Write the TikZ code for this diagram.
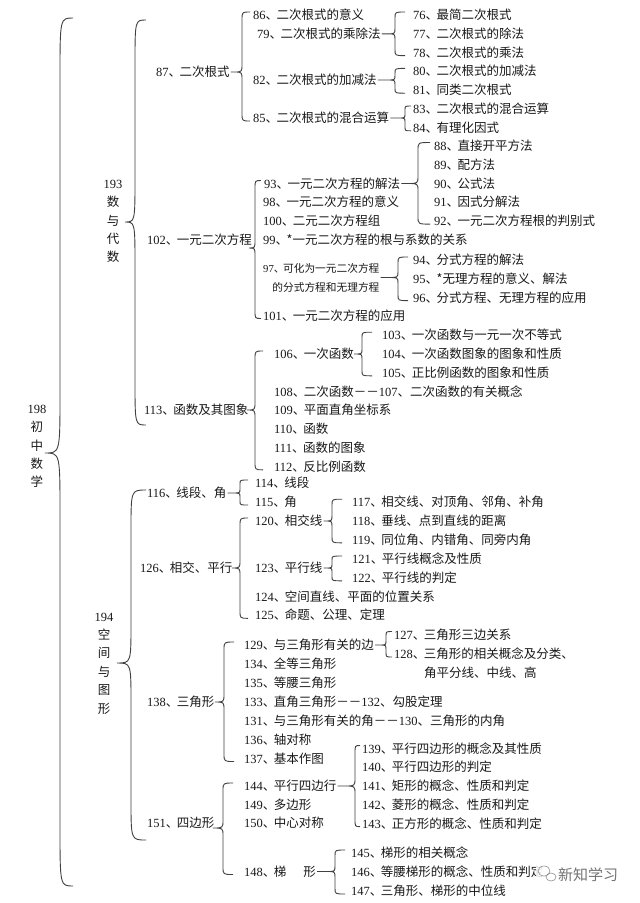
\documentclass[tikz,border=0pt]{standalone}
\usepackage{fontspec}
\setmainfont{Noto Sans CJK SC}
\newfontfamily\numfont{Liberation Serif}
\usetikzlibrary{calc}

\newcommand{\nf}[1]{{\numfont #1}}
\newcommand{\nr}[1]{{\numfont #1}、\kern-1.5pt}
% brace: #1 x of line, #2 hook, #3 depth, #4 radius, #5 top, #6 parent, #7 bottom
\newcommand{\brc}[7]{%
  \draw[brcline] let \p1=(#5), \p2=(#6), \p3=(#7),
      \n1={min(\x2,#1pt-#3pt)} in
    (#1pt+#2pt,\y1+3pt) .. controls (#1pt,\y1+3pt) .. (#1pt,\y1+3pt-#4pt)
    -- (#1pt,\y2+#4pt) .. controls (#1pt,\y2) .. (#1pt-#3pt,\y2)
    -- (\n1*1pt,\y2) -- (#1pt-#3pt,\y2)
    .. controls (#1pt,\y2) .. (#1pt,\y2-#4pt)
    -- (#1pt,\y3-3pt+#4pt) .. controls (#1pt,\y3-3pt) .. (#1pt+#2pt,\y3-3pt);
}

\begin{document}
\begin{tikzpicture}[
  x=1pt, y=-1pt,
  item/.style={anchor=west, inner sep=1pt, text height=10.5pt, text depth=1.5pt,
    font=\fontsize{12.5}{14}\selectfont, text=black!90},
  vlabel/.style={align=center, inner sep=0pt, font=\fontsize{12.5}{18.4}\selectfont, text=black!90},
  brcline/.style={draw=black!75, line width=0.9pt},
]

  % ── Canvas ──
  \fill[white] (0,0) rectangle (640,903);
  \useasboundingbox (0,0) rectangle (640,903);

  % ── Root: 198 ──
  \node[vlabel] (n198) at (37,446.5) {\nf{198}\\初\\中\\数\\学};
  \coordinate (t198) at (73,21);
  \coordinate (c198) at (45,453);
  \coordinate (b198) at (77,883);

  % ── 193 数与代数 ──
  \node[vlabel] (n193) at (113,221.5) {\nf{193}\\数\\与\\代\\数};
  \coordinate (t193) at (146,23);
  \coordinate (c193) at (125,222);
  \coordinate (b193) at (146,422);

  % 87 二次根式
  \node[item] (n87) at (155,72) {\nr{87}二次根式};
  \node[item] (n86) at (252,15) {\nr{86}二次根式的意义};
  \node[item] (n79) at (256,33.8) {\nr{79}二次根式的乘除法};
  \node[item] (n82) at (252,80) {\nr{82}二次根式的加减法};
  \node[item] (n85) at (252,118) {\nr{85}二次根式的混合运算};
  \foreach \k/\t/\y in {76/最简二次根式/15, 77/二次根式的除法/33.8, 78/二次根式的乘法/52.6,
      80/二次根式的加减法/71.4, 81/同类二次根式/90.2, 83/二次根式的混合运算/109, 84/有理化因式/127.8}
    \node[item] (n\k) at (412,\y) {\nr{\k}\t};

  % 102 一元二次方程
  \node[item] (n102) at (146,240) {\nr{102}一元二次方程};
  \node[item] (n93) at (263,183.5) {\nr{93}一元二次方程的解法};
  \foreach \k/\t/\y in {98/一元二次方程的意义/202.3, 100/二元二次方程组/221.1,
      99/*一元二次方程的根与系数的关系/240, 101/一元二次方程的应用/315.5}
    \node[item] (n\k) at (262,\y) {\nr{\k}\t};
  \node[anchor=west, align=right, inner sep=1pt, font=\fontsize{10.7}{19}\selectfont, text=black!90]
    (n97) at (262,277.5) {\nr{97}可化为一元二次方程\\的分式方程和无理方程};
  \foreach \k/\t/\y in {88/直接开平方法/145.5, 89/配方法/164.5, 90/公式法/183.5,
      91/因式分解法/202.3, 92/一元二次方程根的判别式/221.1}
    \node[item] (n\k) at (433,\y) {\nr{\k}\t};
  \foreach \k/\t/\y in {94/分式方程的解法/260, 95/*无理方程的意义、解法/278.8, 96/分式方程、无理方程的应用/297.6}
    \node[item] (n\k) at (412,\y) {\nr{\k}\t};

  % 113 函数及其图象
  \node[item] (n113) at (143,410) {\nr{113}函数及其图象};
  \foreach \k/\t/\y in {106/一次函数/354, 108/二次函数－－\nf{107}、二次函数的有关概念/391.6,
      109/平面直角坐标系/410.4, 110/函数/429.2, 111/函数的图象/448, 112/反比例函数/466.8}
    \node[item] (n\k) at (273,\y) {\nr{\k}\t};
  \foreach \k/\t/\y in {103/一次函数与一元一次不等式/335.2, 104/一次函数图象的图象和性质/354,
      105/正比例函数的图象和性质/372.8}
    \node[item] (n\k) at (381,\y) {\nr{\k}\t};

  % ── 194 空间与图形 ──
  \node[vlabel] (n194) at (104,663.5) {\nf{194}\\空\\间\\与\\图\\形};
  \coordinate (t194) at (146,493);
  \coordinate (c194) at (117,663);
  \coordinate (b194) at (146,837);

  % 116 线段、角
  \node[item] (n116) at (146,493) {\nr{116}线段、角};
  \node[item] (n114) at (254,483) {\nr{114}线段};
  \node[item] (n115) at (254,502) {\nr{115}角};

  % 126 相交、平行
  \node[item] (n126) at (139,568) {\nr{126}相交、平行};
  \foreach \k/\t/\y in {120/相交线/521, 123/平行线/568, 124/空间直线、平面的位置关系/596.5, 125/命题、公理、定理/615.3}
    \node[item] (n\k) at (254,\y) {\nr{\k}\t};
  \foreach \k/\t/\y in {117/相交线、对顶角、邻角、补角/502.2, 118/垂线、点到直线的距离/521,
      119/同位角、内错角、同旁内角/539.8, 121/平行线概念及性质/559, 122/平行线的判定/577.8}
    \node[item] (n\k) at (351,\y) {\nr{\k}\t};

  % 138 三角形
  \node[item] (n138) at (146,702) {\nr{138}三角形};
  \foreach \k/\t/\y in {129/与三角形有关的边/645, 134/全等三角形/664, 135/等腰三角形/683,
      133/直角三角形－－\nf{132}、勾股定理/702, 131/与三角形有关的角－－\nf{130}、三角形的内角/721,
      136/轴对称/740, 137/基本作图/758.5}
    \node[item] (n\k) at (243,\y) {\nr{\k}\t};
  \node[item] (n127) at (393,634.5) {\nr{127}三角形三边关系};
  \node[item] (n128) at (393,654) {\nr{128}三角形的相关概念及分类、};
  \node[item] (n128b) at (423,673) {角平分线、中线、高};

  % 151 四边形
  \node[item] (n151) at (146,823) {\nr{151}四边形};
  \foreach \k/\t/\y in {144/平行四边行/786, 149/多边形/804.5, 150/中心对称/823.3,
      148/梯\hspace{17pt}形/871.5}
    \node[item] (n\k) at (243,\y) {\nr{\k}\t};
  \foreach \k/\t/\y in {139/平行四边形的概念及其性质/748.5, 140/平行四边形的判定/767.3,
      141/矩形的概念、性质和判定/786, 142/菱形的概念、性质和判定/804.8, 143/正方形的概念、性质和判定/823.6}
    \node[item] (n\k) at (361,\y) {\nr{\k}\t};
  \foreach \k/\t/\y in {145/梯形的相关概念/853, 146/等腰梯形的概念、性质和判定/872, 147/三角形、梯形的中位线/891}
    \node[item] (n\k) at (350,\y) {\nr{\k}\t};

  % ── Braces ──
  \brc{60}{13}{15}{60}{t198}{c198}{b198}
  \brc{135}{11}{10}{45}{t193}{c193}{b193}
  \brc{131}{15}{14}{40}{t194}{c194}{b194}

  \brc{242}{8}{8}{8}{n86}{n87.east}{n85}
  \brc{395}{10}{8}{6}{n76}{n79.east}{n78}
  \brc{395}{10}{8}{5}{n80}{n82.east}{n81}
  \brc{405}{6}{7}{4}{n83}{n85.east}{n84}

  \brc{255}{6}{6}{8}{n93}{$(n102.east)+(0,8)$}{n101}
  \brc{418}{12}{10}{8}{n88}{n93.east}{n92}
  \brc{398}{10}{10}{6}{n94}{n97.east}{n96}

  \brc{255}{8}{8}{8}{n106}{n113.east}{n112}
  \brc{362}{10}{8}{5}{n103}{n106.east}{n105}

  \brc{240}{8}{8}{4}{n114}{n116.east}{n115}
  \brc{240}{8}{8}{8}{n120}{n126.east}{n125}
  \brc{332}{10}{7}{6}{n117}{n120.east}{n119}
  \brc{332}{10}{7}{4}{n121}{n123.east}{n122}

  \brc{224}{10}{9}{8}{n129}{n138.east}{n137}
  \brc{386}{6}{6}{5}{n127}{n129.east}{n128}

  \brc{223}{10}{10}{8}{n144}{$(n151.east)+(0,5)$}{n148}
  \brc{355}{5}{10}{8}{n139}{n144.east}{n143}
  \brc{335}{10}{8}{6}{n145}{n148.east}{n147}

  % ── Watermark ──
  \fill[white, opacity=0.85] (536,862) rectangle (630,888);
  \draw[black!45, line width=0.6pt] (544,871) ellipse (6 and 5) (551,877) ellipse (5 and 4);
  \node[anchor=west, inner sep=1pt, font=\fontsize{15}{15}\selectfont, text=black!55] (wm) at (557,875) {新知学习};

\end{tikzpicture}
\end{document}
